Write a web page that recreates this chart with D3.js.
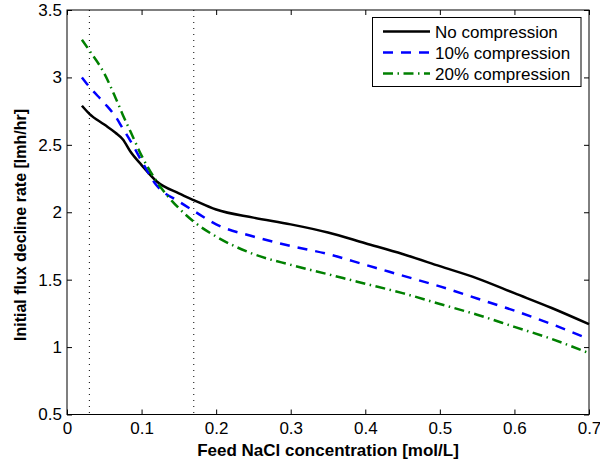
<!DOCTYPE html>
<html>
<head>
<meta charset="utf-8">
<script src="https://cdn.jsdelivr.net/npm/d3@7"></script>
<style>
  body { margin: 0; background: #fff; }
  text { font-family: "Liberation Sans", Arial, sans-serif; }
</style>
</head>
<body>
<div id="chart"></div>
<script>
var width = 600;
var height = 467;

// feed concentration [mol/L]
var conc = [0.02, 0.03, 0.05, 0.065, 0.075, 0.085, 0.1, 0.12, 0.15, 0.17, 0.2,
  0.25, 0.3, 0.35, 0.4, 0.45, 0.5, 0.55, 0.6, 0.65, 0.7];
var noCompression = [2.79, 2.73, 2.65, 2.59, 2.54, 2.45, 2.35, 2.23, 2.14, 2.09, 2.02,
  1.96, 1.91, 1.85, 1.77, 1.69, 1.60, 1.51, 1.40, 1.29, 1.17];
var comp10 = [3.00, 2.93, 2.81, 2.71, 2.62, 2.53, 2.38, 2.20, 2.08, 2.01, 1.91,
  1.82, 1.75, 1.69, 1.61, 1.53, 1.45, 1.36, 1.27, 1.17, 1.06];
var comp20 = [3.28, 3.20, 3.03, 2.85, 2.72, 2.60, 2.42, 2.23, 2.03, 1.93, 1.82,
  1.69, 1.61, 1.54, 1.47, 1.40, 1.32, 1.24, 1.15, 1.06, 0.955];
var seriesNames = ['No compression', '10% compression', '20% compression'];
var markerLines = [0.03, 0.17];  // dotted vertical lines
var xTicks = [0, 0.1, 0.2, 0.3, 0.4, 0.5, 0.6, 0.7];
var yTicks = [0.5, 1, 1.5, 2, 2.5, 3, 3.5];

var margin = { left: 67, top: 10, right: 11, bottom: 52.5 };

var svg = d3.select('#chart').append('svg')
  .attr('width', width)
  .attr('height', height)

var x = d3.scaleLinear().domain([0, 0.7]).range([margin.left, width - margin.right])
var y = d3.scaleLinear().domain([0.5, 3.5]).range([height - margin.bottom, margin.top])

// dotted verticals
svg.selectAll('.vline')
  .data(markerLines)
  .enter()
  .append('line')
  .attr('x1', d => x(d)).attr('x2', d => x(d))
  .attr('y1', y(3.5)).attr('y2', y(0.5))
  .style('stroke', '#000')
  .style('stroke-width', 1)
  .style('stroke-dasharray', '1,5')

// series
var styles = [
  { color: '#000000', dash: null },
  { color: '#0000ff', dash: '10,8' },
  { color: '#008000', dash: '10,4.5,1.5,4.5' }
]
var allSeries = [noCompression, comp10, comp20]

var lineGen = d3.line()
  .x((d, i) => x(conc[i]))
  .y(d => y(d))
  .curve(d3.curveMonotoneX)

svg.selectAll('.series')
  .data(allSeries)
  .enter()
  .append('path')
  .attr('d', lineGen)
  .style('fill', 'none')
  .style('stroke', (d, i) => styles[i].color)
  .style('stroke-width', 2.5)
  .style('stroke-dasharray', (d, i) => styles[i].dash)

// box
svg.append('rect')
  .attr('x', x(0)).attr('y', y(3.5))
  .attr('width', x(0.7) - x(0)).attr('height', y(0.5) - y(3.5))
  .style('fill', 'none')
  .style('stroke', '#000')
  .style('stroke-width', 1)

// axes with inward ticks
svg.append('g')
  .attr('transform', 'translate(0,' + y(0.5) + ')')
  .call(d3.axisBottom(x).tickValues(xTicks).tickSizeInner(-5).tickSizeOuter(0).tickPadding(7)
    .tickFormat(d => d === 0 ? '0' : d3.format('.1f')(d)))
svg.append('g')
  .attr('transform', 'translate(0,' + y(3.5) + ')')
  .call(d3.axisTop(x).tickValues(xTicks).tickSizeInner(-5).tickSizeOuter(0).tickFormat(''))
svg.append('g')
  .attr('transform', 'translate(' + x(0) + ',0)')
  .call(d3.axisLeft(y).tickValues(yTicks).tickSizeInner(-5).tickSizeOuter(0).tickPadding(5)
    .tickFormat(d => d3.format('')(d)))
svg.append('g')
  .attr('transform', 'translate(' + x(0.7) + ',0)')
  .call(d3.axisRight(y).tickValues(yTicks).tickSizeInner(-5).tickSizeOuter(0).tickFormat(''))

svg.selectAll('.domain').remove()
svg.selectAll('.tick line').style('stroke', '#000')
svg.selectAll('.tick text')
  .style('font-size', '17px')
  .style('fill', '#000')
  .style('font-family', '"Liberation Sans", Arial, sans-serif')

// axis titles
svg.append('text')
  .attr('x', (x(0) + x(0.7)) / 2)
  .attr('y', 455.5)
  .attr('text-anchor', 'middle')
  .style('font-size', '17px')
  .style('font-weight', 'bold')
  .text('Feed NaCl concentration [mol/L]')

svg.append('text')
  .attr('transform', 'translate(26,225) rotate(-90)')
  .attr('text-anchor', 'middle')
  .style('font-size', '16px')
  .style('font-weight', 'bold')
  .text('Initial flux decline rate [lmh/hr]')

// legend
var legend = svg.append('g')
legend.append('rect')
  .attr('x', 372.5).attr('y', 17.5)
  .attr('width', 208.5).attr('height', 69)
  .style('fill', '#fff')
  .style('stroke', '#000')
  .style('stroke-width', 1)

var rows = legend.selectAll('.row')
  .data(seriesNames)
  .enter()
  .append('g')
  .attr('transform', (d, i) => 'translate(0,' + (31.5 + i * 21) + ')')

rows.append('line')
  .attr('x1', 383).attr('x2', 430)
  .attr('y1', 0).attr('y2', 0)
  .style('stroke', (d, i) => styles[i].color)
  .style('stroke-width', 2.5)
  .style('stroke-dasharray', (d, i) => styles[i].dash)

rows.append('text')
  .attr('x', 435)
  .attr('y', 6)
  .style('font-size', '17px')
  .text(d => d)
</script>
</body>
</html>
